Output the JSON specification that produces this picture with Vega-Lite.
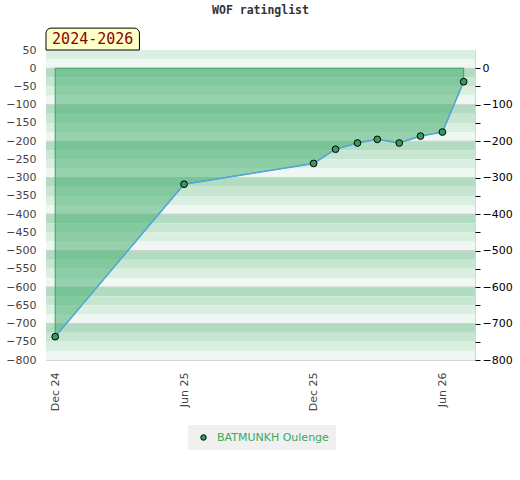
{
  "$schema": "https://vega.github.io/schema/vega-lite/v6.json",
  "width": 429,
  "height": 310,
  "autosize": {"type": "none"},
  "padding": {"left": 46, "top": 50, "right": 45, "bottom": 120},
  "background": "white",
  "title": {
    "text": "WOF ratinglist",
    "font": "DejaVu Sans Mono",
    "fontSize": 11.5,
    "fontWeight": "bold",
    "color": "#333",
    "anchor": "middle",
    "frame": "group",
    "offset": 11
  },
  "config": {
    "view": {"stroke": "#d4d4d4"},
    "font": "DejaVu Sans",
    "axis": {"labelFont": "DejaVu Sans", "labelFontSize": 11}
  },
  "datasets": {
    "ratings": [
      {"date": "2024-12-01T00:00:00", "rating": -736, "name": "BATMUNKH Oulenge"},
      {"date": "2025-06-01T00:00:00", "rating": -318, "name": "BATMUNKH Oulenge"},
      {"date": "2025-12-01T00:00:00", "rating": -261, "name": "BATMUNKH Oulenge"},
      {"date": "2026-01-01T00:00:00", "rating": -222, "name": "BATMUNKH Oulenge"},
      {"date": "2026-02-01T00:00:00", "rating": -205, "name": "BATMUNKH Oulenge"},
      {"date": "2026-03-01T00:00:00", "rating": -195, "name": "BATMUNKH Oulenge"},
      {"date": "2026-04-01T00:00:00", "rating": -205, "name": "BATMUNKH Oulenge"},
      {"date": "2026-05-01T00:00:00", "rating": -186, "name": "BATMUNKH Oulenge"},
      {"date": "2026-06-01T00:00:00", "rating": -175, "name": "BATMUNKH Oulenge"},
      {"date": "2026-07-01T00:00:00", "rating": -37, "name": "BATMUNKH Oulenge"}
    ],
    "bands": [
      {"hi": 50, "lo": 25, "shade": "c"},
      {"hi": 25, "lo": 0, "shade": "d"},
      {"hi": 0, "lo": -25, "shade": "a"},
      {"hi": -25, "lo": -50, "shade": "b"},
      {"hi": -50, "lo": -75, "shade": "c"},
      {"hi": -75, "lo": -100, "shade": "d"},
      {"hi": -100, "lo": -125, "shade": "a"},
      {"hi": -125, "lo": -150, "shade": "b"},
      {"hi": -150, "lo": -175, "shade": "c"},
      {"hi": -175, "lo": -200, "shade": "d"},
      {"hi": -200, "lo": -225, "shade": "a"},
      {"hi": -225, "lo": -250, "shade": "b"},
      {"hi": -250, "lo": -275, "shade": "c"},
      {"hi": -275, "lo": -300, "shade": "d"},
      {"hi": -300, "lo": -325, "shade": "a"},
      {"hi": -325, "lo": -350, "shade": "b"},
      {"hi": -350, "lo": -375, "shade": "c"},
      {"hi": -375, "lo": -400, "shade": "d"},
      {"hi": -400, "lo": -425, "shade": "a"},
      {"hi": -425, "lo": -450, "shade": "b"},
      {"hi": -450, "lo": -475, "shade": "c"},
      {"hi": -475, "lo": -500, "shade": "d"},
      {"hi": -500, "lo": -525, "shade": "a"},
      {"hi": -525, "lo": -550, "shade": "b"},
      {"hi": -550, "lo": -575, "shade": "c"},
      {"hi": -575, "lo": -600, "shade": "d"},
      {"hi": -600, "lo": -625, "shade": "a"},
      {"hi": -625, "lo": -650, "shade": "b"},
      {"hi": -650, "lo": -675, "shade": "c"},
      {"hi": -675, "lo": -700, "shade": "d"},
      {"hi": -700, "lo": -725, "shade": "a"},
      {"hi": -725, "lo": -750, "shade": "b"},
      {"hi": -750, "lo": -775, "shade": "c"},
      {"hi": -775, "lo": -800, "shade": "d"}
    ],
    "period": [
      {"start": "2024-11-18T00:00:00", "end": "2025-03-30T00:00:00", "mid": "2025-01-23T00:00:00", "label": "2024-2026"}
    ]
  },
  "layer": [
    {
      "data": {"name": "bands"},
      "mark": {"type": "rect"},
      "encoding": {
        "y": {
          "field": "hi",
          "type": "quantitative",
          "axis": null,
          "scale": {"domain": [-800, 50], "nice": false, "zero": false}
        },
        "y2": {"field": "lo"},
        "fill": {
          "field": "shade",
          "type": "nominal",
          "scale": {"domain": ["a", "b", "c", "d"], "range": ["#b2dcc2", "#c7e6d2", "#dbeee2", "#eef7f1"]},
          "legend": null
        }
      }
    },
    {
      "data": {"name": "bands"},
      "transform": [{"filter": "datum.hi % 100 == 0"}],
      "mark": {"type": "rule", "color": "#d0d0d0", "strokeWidth": 1},
      "encoding": {
        "y": {
          "field": "hi",
          "type": "quantitative",
          "scale": {"domain": [-800, 50], "nice": false, "zero": false},
          "axis": {
            "orient": "right",
            "title": null,
            "values": [0, -50, -100, -150, -200, -250, -300, -350, -400, -450, -500, -550, -600, -650, -700, -750, -800],
            "labelExpr": "datum.value % 100 == 0 ? datum.label : ''",
            "domain": false,
            "grid": false,
            "ticks": true,
            "tickColor": "#000",
            "tickSize": 5,
            "labelColor": "#000",
            "labelPadding": 2
          }
        }
      }
    },
    {
      "data": {"name": "ratings"},
      "mark": {"type": "area", "fill": "#3dab69", "fillOpacity": 0.5, "stroke": "#36a35a", "strokeWidth": 1},
      "encoding": {
        "x": {"field": "date", "type": "temporal", "title": null},
        "y": {"field": "rating", "type": "quantitative", "axis": null},
        "y2": {"datum": 0}
      }
    },
    {
      "data": {"name": "ratings"},
      "mark": {"type": "line", "color": "#56a5dc", "strokeWidth": 1.5},
      "encoding": {
        "x": {"field": "date", "type": "temporal", "title": null},
        "y": {"field": "rating", "type": "quantitative", "axis": null}
      }
    },
    {
      "data": {"name": "ratings"},
      "mark": {"type": "point", "filled": true, "stroke": "#000", "strokeWidth": 1, "size": 45, "opacity": 1},
      "encoding": {
        "x": {
          "field": "date",
          "type": "temporal",
          "title": null,
          "scale": {"domain": [{"year": 2024, "month": 11, "date": 18}, {"year": 2026, "month": 7, "date": 17}]},
          "axis": {
            "title": null,
            "values": [
              {"year": 2024, "month": 12, "date": 1},
              {"year": 2025, "month": 6, "date": 1},
              {"year": 2025, "month": 12, "date": 1},
              {"year": 2026, "month": 6, "date": 1}
            ],
            "format": "%b %y",
            "labelAngle": 270,
            "labelFlush": false,
            "domain": false,
            "ticks": false,
            "grid": false,
            "labelColor": "#444",
            "labelPadding": 12
          }
        },
        "y": {
          "field": "rating",
          "type": "quantitative",
          "scale": {"domain": [-800, 50], "nice": false, "zero": false},
          "axis": {
            "orient": "left",
            "title": null,
            "values": [50, 0, -50, -100, -150, -200, -250, -300, -350, -400, -450, -500, -550, -600, -650, -700, -750, -800],
            "domain": false,
            "ticks": false,
            "grid": false,
            "labelColor": "#444",
            "labelPadding": 10
          }
        },
        "color": {
          "field": "name",
          "type": "nominal",
          "scale": {"range": ["#339e5c"]},
          "legend": {
            "title": null,
            "orient": "none",
            "legendX": 142,
            "legendY": 375,
            "direction": "horizontal",
            "fillColor": "#f0f0f0",
            "padding": 7,
            "labelColor": "#3aa85e",
            "labelFont": "DejaVu Sans",
            "labelFontSize": 11,
            "labelOffset": 8,
            "symbolOffset": 3,
            "symbolType": "circle",
            "symbolSize": 30,
            "symbolStrokeColor": "#000",
            "symbolStrokeWidth": 1
          }
        }
      }
    },
    {
      "data": {"name": "period"},
      "mark": {"type": "rect", "fill": "#ffffc8", "stroke": "#000", "strokeWidth": 1, "cornerRadiusTopLeft": 5, "cornerRadiusTopRight": 5},
      "encoding": {
        "x": {"field": "start", "type": "temporal", "title": null},
        "x2": {"field": "end"},
        "y": {"datum": 110, "type": "quantitative", "axis": null},
        "y2": {"datum": 50}
      }
    },
    {
      "data": {"name": "period"},
      "mark": {"type": "text", "font": "DejaVu Sans Mono", "fontSize": 15, "color": "#8b0000", "align": "center", "baseline": "middle"},
      "encoding": {
        "x": {"field": "mid", "type": "temporal", "title": null},
        "y": {"datum": 80, "type": "quantitative", "axis": null},
        "text": {"field": "label"}
      }
    }
  ],
  "resolve": {"axis": {"y": "independent"}}
}
